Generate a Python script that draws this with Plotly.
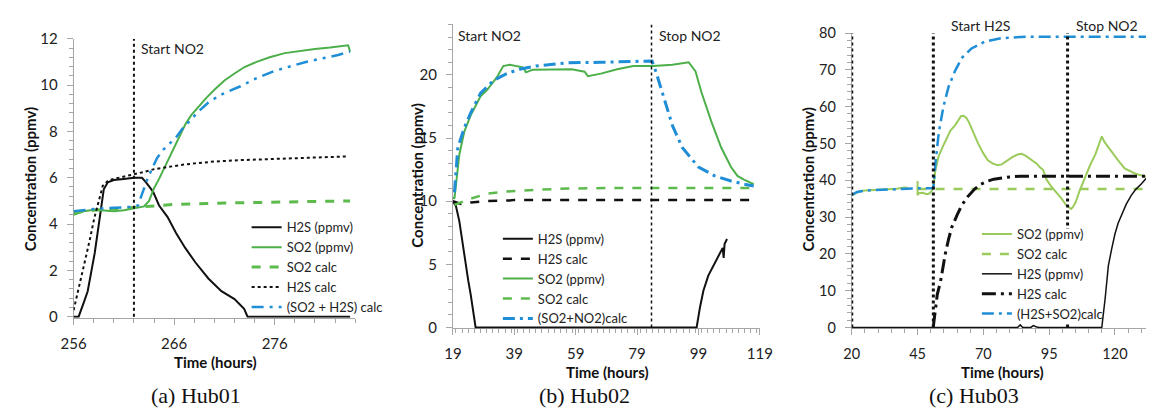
import plotly.graph_objects as go

# ---------------- data ----------------
# Panel (a) Hub01
a_h2s_x = [256, 256.5, 257.0, 257.4, 258.1, 258.7, 259.0, 259.4, 260.0, 261.0, 262.0, 262.8, 263.2, 263.9, 264.5,
           265.35, 266.2, 267.1, 268.1, 269.4, 270.7, 272.0, 272.96, 273.3, 276, 280, 283.5]
a_h2s_y = [0, 0, 0.6, 1.1, 2.75, 4.7, 5.5, 5.8, 5.9, 5.95, 6.0, 6.0, 5.8, 5.4, 4.8,
           4.3, 3.6, 2.97, 2.35, 1.65, 1.1, 0.76, 0.34, 0.0, 0, 0, 0]
a_so2_x = [256, 257, 258, 259, 260, 261, 262, 263, 263.5, 264, 264.5, 265, 265.5, 266, 266.5, 267.1, 267.7,
           268.4, 269.2, 270, 271, 272, 273, 274.2, 275.5, 277, 278.5, 280, 281.5, 283, 283.3, 283.5]
a_so2_y = [4.4, 4.55, 4.62, 4.6, 4.55, 4.6, 4.68, 4.76, 5.0, 5.55, 5.95, 6.4, 6.85, 7.3, 7.8, 8.3, 8.7,
           9.05, 9.45, 9.8, 10.2, 10.5, 10.78, 11.0, 11.2, 11.38, 11.48, 11.56, 11.62, 11.7, 11.72, 11.45]
a_so2calc_x = [256, 258, 260, 262, 264, 266, 270, 276, 283.5]
a_so2calc_y = [4.5, 4.6, 4.65, 4.72, 4.8, 4.85, 4.9, 4.95, 5.0]
a_h2scalc_x = [256, 256.5, 257.1, 257.6, 258.07, 258.5, 258.9, 259.5, 260, 261, 262, 263, 264, 265.5, 267,
               268.1, 270, 272.6, 275, 277.5, 280, 283.2]
a_h2scalc_y = [0.28, 1.2, 2.34, 3.3, 4.28, 5.0, 5.65, 5.9, 5.95, 6.02, 6.14, 6.25, 6.37, 6.48, 6.57,
               6.62, 6.7, 6.76, 6.8, 6.83, 6.87, 6.92]
a_sum_x = [256, 258, 260, 262, 262.4, 262.8, 263.3, 263.8, 264.3, 264.9, 265.5, 266.2, 266.8, 267.5, 268.4,
           269.4, 270.5, 271.5, 272.6, 274.2, 275.9, 277.5, 279.1, 280.7, 282.3, 283.5]
a_sum_y = [4.55, 4.65, 4.7, 4.75, 4.8, 5.3, 5.9, 6.4, 6.85, 7.2, 7.45, 7.75, 8.1, 8.45, 8.85,
           9.25, 9.55, 9.75, 9.95, 10.3, 10.6, 10.8, 11.0, 11.15, 11.3, 11.45]
a_events = [262]
a_event_labels = ["Start NO2"]

# Panel (b) Hub02
b_h2s_x = [19, 20, 21.1, 22.1, 23.2, 24.0, 24.8, 25.6, 26.4, 40, 60, 80, 98.4, 99.5, 100.6, 102.2,
           104.3, 105.9, 106.9, 107.2, 107.5, 108.3]
b_h2s_y = [10, 9.6, 8.4, 6.7, 4.9, 3.7, 2.6, 1.3, 0, 0, 0, 0, 0, 1.6, 2.9, 4.1,
           5.1, 5.8, 6.3, 5.5, 6.6, 7.0]
b_h2scalc_x = [19, 21.6, 24.8, 30.1, 37.5, 39, 60, 80, 100, 117]
b_h2scalc_y = [10.0, 9.77, 9.9, 10.0, 10.05, 10.1, 10.1, 10.1, 10.1, 10.1]
b_so2_x = [19, 19.5, 21.1, 22.7, 24.8, 28, 30.1, 33.3, 35.4, 37.5, 41.8, 42.8, 44.9, 51.3, 57.7, 61.9,
           63, 67.2, 72.5, 77.8, 84.2, 90.5, 95.8, 98, 100, 103.2, 106.4, 109.6, 111.7, 113.8, 117]
b_so2_y = [10.3, 10.2, 13.7, 15.5, 16.8, 18.3, 18.8, 19.8, 20.7, 20.8, 20.6, 20.2, 20.4, 20.4, 20.45, 20.25,
           19.9, 20.1, 20.45, 20.7, 20.7, 20.8, 21.0, 20.3, 18.6, 16.3, 14.25, 12.7, 12.0, 11.7, 11.35]
b_so2calc_x = [19.5, 20.6, 24.8, 30.1, 35.4, 46, 56.6, 72.5, 117]
b_so2calc_y = [9.7, 9.8, 10.2, 10.58, 10.75, 10.9, 11.0, 11.05, 11.05]
b_sum_x = [19.5, 20.6, 22.7, 24.8, 28, 32.2, 36.5, 40.7, 46, 56.6, 67.2, 77.8, 83.9, 85.2, 87.3, 90.5,
           93.7, 99, 104.3, 109.6, 113.8, 117]
b_sum_y = [10.7, 14.25, 15.8, 17.0, 18.55, 19.55, 20.1, 20.45, 20.7, 20.96, 21.0, 21.1, 21.1, 20.2, 18.55, 16.0,
           14.25, 12.7, 12.0, 11.6, 11.35, 11.2]
b_events = [83.7]
b_event_labels = ["Start NO2", "Stop NO2"]

# Panel (c) Hub03
c_so2_x = [20, 21, 23, 25, 28, 31, 34, 37, 40, 41.5, None, 45, 45, 45.5, 47, 48.5, 49.5, 50.5, 51, 51.8, 53,
           54.5, 56, 57.5, 59.3, 60.5, 61.5, 62.5, 63.5, 64.5, 66, 68, 70, 71.7, 73.5, 75.4, 77, 79, 81, 83,
           84.5, 86, 87.5, 89, 90.3, 91.5, 92.7, 94, 95.5, 97.7, 99.5, 101.4, 102.5, 103.3, 104, 105.1,
           106.5, 108.8, 110.5, 112.6, 114, 115, 116, 117.5, 119.5, 121.2, 123.7, 125.5, 127.4, 129.5, 132]
c_so2_y = [35.9, 36.3, 37.0, 37.2, 37.3, 37.4, 37.5, 37.7, 38.0, 37.9, None, 39.8, 35.9, 36.5, 36.6, 36.2, 36.4,
           37.2, 38.0, 42.8, 46.5, 49.0, 51.5, 53.5, 55.0, 56.5, 57.4, 57.5, 57.0, 55.8, 53.3, 50.0, 47.3,
           45.4, 44.6, 44.1, 44.3, 45.4, 46.3, 47.0, 47.2, 46.7, 46.0, 45.2, 44.5, 43.5, 42.8, 40.2, 38.6,
           36.7, 35.2, 33.3, 32.6, 32.2, 32.7, 34.1, 37.0, 41.1, 44.0, 47.1, 49.6, 51.9, 50.4, 48.9, 46.8,
           45.4, 43.2, 42.5, 41.9, 41.4, 41.0]
c_so2calc_x = [45, 60, 80, 100, 120, 132]
c_so2calc_y = [37.6, 37.6, 37.6, 37.6, 37.6, 37.6]
c_h2s_x = [20, 30, 40, 50, 60, 70, 80, 83, 84, 85, 88, 89, 90, 91, 100, 110, 115, 116.3, 117.5, 118.8,
           120, 121.2, 122.5, 124.3, 126.2, 128, 129.9, 132]
c_h2s_y = [0, 0, 0, 0, 0, 0, 0, 0, 0.7, 0, 0, 0.5, 0.2, 0, 0, 0, 0, 8, 16.8, 21.5,
           25.4, 28.3, 30.6, 33.5, 35.9, 37.6, 38.9, 40.6]
c_h2scalc_x = [51, 51.5, 51.8, 52.5, 53.7, 54.5, 55.6, 56.8, 58, 60, 61.8, 64, 66.7, 69, 71.7, 74, 76.6,
               80, 84, 100, 132]
c_h2scalc_y = [0.3, 3, 5.5, 9, 12.4, 16, 20.2, 24, 27.2, 30.5, 33.2, 35.5, 37.6, 38.9, 39.8, 40.3, 40.6,
               40.9, 41.1, 41.1, 41.1]
c_sum_x = [20, 22, 25, 30, 35, 40, 42, 45, 51, 51.8, 53.1, 54.9, 56.8, 59.3, 61.8, 65.5, 70.4, 76.6,
           86.5, 100, 132]
c_sum_y = [36, 36.8, 37.2, 37.4, 37.6, 37.8, 37.8, 37.8, 37.8, 44.6, 53.2, 60.2, 65.4, 69.8, 73.2, 75.8,
           77.6, 78.6, 79.0, 79.0, 79.0]
c_events = [20, 51, 102]
c_event_labels = ["Start H2S", "Stop NO2"]

# ---------------- styles ----------------
FONT = "Lato"
GREEN = "#4DAF4A"
GREEN_D = "#5DBB4E"
BLUE = "#1F8ED6"
LGREEN = "#9BCB5B"
BLACK = "#111111"
AXC = "#A6A6A6"
W, H = 1159, 415


def dom_x(p0, p1):
    return [p0 / W, p1 / W]


def dom_y(top, bottom):
    return [1 - bottom / H, 1 - top / H]


fig = go.Figure()


def add(x, y, name, color, width, dash, ax, leg):
    fig.add_trace(go.Scatter(x=x, y=y, name=name, mode="lines",
                             line=dict(color=color, width=width, dash=dash),
                             xaxis="x" + ax, yaxis="y" + ax, legend=leg, connectgaps=False))


DDD = "12px,6px,3px,6px,3px,6px"
DD = "12px,5px,3px,5px"
LDD = "14px,5px,3px,5px"

# panel a
add(a_h2s_x, a_h2s_y, "H2S (ppmv)", BLACK, 2, "solid", "", "legend")
add(a_so2_x, a_so2_y, "SO2 (ppmv)", GREEN, 2, "solid", "", "legend")
add(a_so2calc_x, a_so2calc_y, "SO2 calc", GREEN_D, 3, "dash", "", "legend")
add(a_h2scalc_x, a_h2scalc_y, "H2S calc", BLACK, 2, "dot", "", "legend")
add(a_sum_x, a_sum_y, "(SO2 + H2S) calc", BLUE, 2.5, DDD, "", "legend")
# panel b
add(b_h2s_x, b_h2s_y, "H2S (ppmv)", BLACK, 2, "solid", "2", "legend2")
add(b_h2scalc_x, b_h2scalc_y, "H2S calc", BLACK, 2.5, "dash", "2", "legend2")
add(b_so2_x, b_so2_y, "SO2 (ppmv)", GREEN, 2, "solid", "2", "legend2")
add(b_so2calc_x, b_so2calc_y, "SO2 calc", GREEN_D, 2.5, "dash", "2", "legend2")
add(b_sum_x, b_sum_y, "(SO2+NO2)calc", BLUE, 3, DD, "2", "legend2")
# panel c
add(c_so2_x, c_so2_y, "SO2 (ppmv)", LGREEN, 2, "solid", "3", "legend3")
add(c_so2calc_x, c_so2calc_y, "SO2 calc", LGREEN, 2.5, "dash", "3", "legend3")
add(c_h2s_x, c_h2s_y, "H2S (ppmv)", BLACK, 1.5, "solid", "3", "legend3")
add(c_h2scalc_x, c_h2scalc_y, "H2S calc", BLACK, 3, LDD, "3", "legend3")
add(c_sum_x, c_sum_y, "(H2S+SO2)calc", BLUE, 2.5, DD, "3", "legend3")


def xaxis(dom, rng, dtick, minor, anchor, fs, so):
    return dict(domain=dom, range=rng, dtick=dtick, tick0=rng[0], anchor=anchor,
                showline=True, linecolor=AXC, linewidth=1, ticks="outside", ticklen=6,
                tickcolor=AXC, showgrid=False, zeroline=False, ticklabelstandoff=so,
                layer="below traces",
                minor=dict(ticks="outside", ticklen=4, dtick=minor, tickcolor=AXC),
                tickfont=dict(family=FONT, size=fs, color="#222"))


def yaxis(dom, rng, dtick, minor, anchor, fs):
    return dict(domain=dom, range=rng, dtick=dtick, tick0=0, anchor=anchor,
                showline=True, linecolor=AXC, linewidth=1, ticks="outside", ticklen=6,
                tickcolor=AXC, showgrid=False, zeroline=False, ticklabelstandoff=6,
                layer="below traces",
                minor=dict(ticks="outside", ticklen=4, dtick=minor, tick0=0, tickcolor=AXC),
                tickfont=dict(family=FONT, size=fs, color="#222"))


leg_common = dict(xanchor="left", yanchor="top", font=dict(family=FONT, size=13, color="#222"),
                  tracegroupgap=0, itemwidth=30, bgcolor="rgba(0,0,0,0)")

fig.update_layout(
    width=W, height=H, margin=dict(l=0, r=0, t=0, b=0),
    paper_bgcolor="white", plot_bgcolor="white",
    xaxis=xaxis(dom_x(62, 350), [256, 284], 10, 2, "y", 15, 6),
    yaxis=yaxis(dom_y(30, 321), [-0.05, 12], 2, 0.4, "x", 15),
    xaxis2=xaxis(dom_x(450, 764), [19, 119], 20, 2, "y2", 15, 6),
    yaxis2=yaxis(dom_y(15, 332), [-0.08, 24], 5, 1, "x2", 15),
    xaxis3=xaxis(dom_x(858, 1159), [20, 131.8], 25, 5, "y3", 14.5, 6),
    yaxis3=yaxis(dom_y(24, 332), [-0.25, 80], 10, 2, "x3", 14.5),
    showlegend=True,
    legend=dict(x=239 / W, y=1 - 211 / H, **leg_common),
    legend2=dict(x=496 / W, y=1 - 223 / H, **leg_common),
    legend3=dict(x=986 / W, y=1 - 218 / H, **leg_common),
)

# event lines
for ev in a_events:
    fig.add_shape(type="line", xref="x", yref="y", x0=ev, x1=ev, y0=0, y1=12,
                  line=dict(color=BLACK, width=2, dash="dot"))
for ev in b_events:
    fig.add_shape(type="line", xref="x2", yref="y2", x0=ev, x1=ev, y0=0, y1=24,
                  line=dict(color=BLACK, width=1.5, dash="dot"))
for ev in c_events:
    fig.add_shape(type="line", xref="x3", yref="y3", x0=ev, x1=ev, y0=0, y1=80,
                  line=dict(color=BLACK, width=3, dash="dot"))

# white backing for the panel (c) legend (hides the event line behind it, as in the original)
fig.add_shape(type="rect", xref="paper", yref="paper", x0=985 / W, x1=1106 / W,
              y0=1 - 326 / H, y1=1 - 228 / H, fillcolor="white", line=dict(width=0), layer="above")

ann_font = dict(family=FONT, size=14, color="#222")


def label(x, xref, ypx, txt, shift):
    fig.add_annotation(x=x, y=1 - ypx / H, xref=xref, yref="paper", text=txt, showarrow=False,
                       xanchor="left", yanchor="middle", xshift=shift, font=ann_font)


label(a_events[0], "x", 40, a_event_labels[0], 5)
label(19, "x2", 27, b_event_labels[0], 3)
label(b_events[0], "x2", 27, b_event_labels[1], 5)
label(c_events[1], "x3", 16, c_event_labels[0], 16)
label(c_events[2], "x3", 16, c_event_labels[1], 6)

# axis titles
title_font = dict(family=FONT, size=15, color="#111")
for cx, cy in [(207, 367), (608, 377), (1012, 377)]:
    fig.add_annotation(x=cx / W, y=1 - cy / H, xref="paper", yref="paper", text="<b>Time (hours)</b>",
                       showarrow=False, xanchor="center", yanchor="middle", font=title_font)
for cx, cy in [(17, 177), (413, 173), (813, 177)]:
    fig.add_annotation(x=cx / W, y=1 - cy / H, xref="paper", yref="paper", text="<b>Concentration (ppmv)</b>",
                       showarrow=False, xanchor="center", yanchor="middle", textangle=-90, font=title_font)

cap_font = dict(family="Liberation Serif", size=22, color="#111")
for cx, txt in [(187, "(a) Hub01"), (585, "(b) Hub02"), (983, "(c) Hub03")]:
    fig.add_annotation(x=cx / W, y=1 - 402 / H, xref="paper", yref="paper", text=txt,
                       showarrow=False, xanchor="center", yanchor="middle", font=cap_font)

fig.write_html("out.html")
